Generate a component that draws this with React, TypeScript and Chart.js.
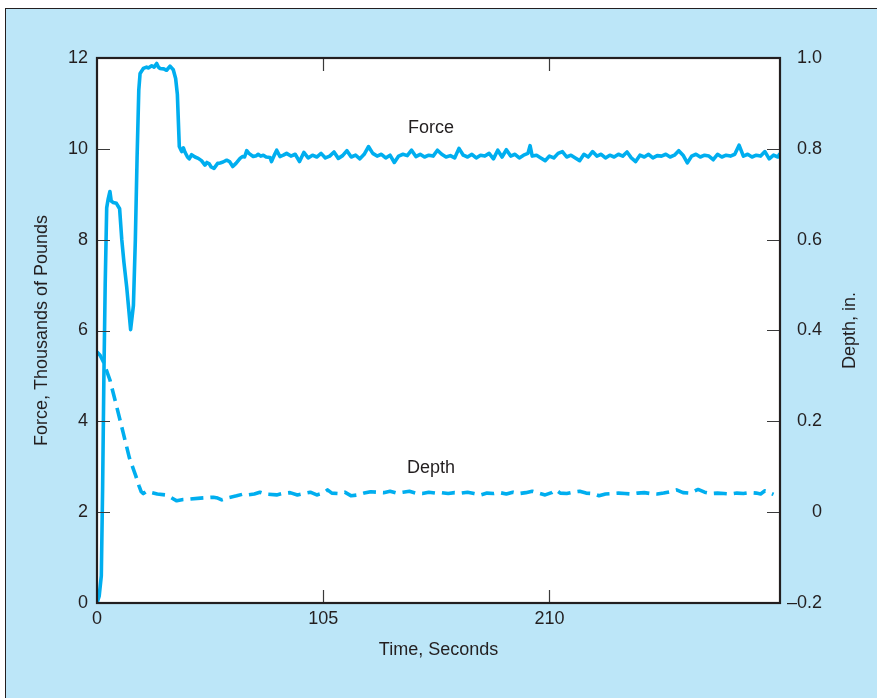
import React, { useEffect, useRef } from "react";
import { Chart, registerables } from "chart.js";

Chart.register(...registerables);

// ---------- data ----------
const forceTime = [
  0, 1.0, 2.0, 2.6, 3.2, 3.8, 4.5, 5.2, 6.0, 6.6, 7.5, 9.0, 10.5, 11.5, 12.5, 13.8, 15.6, 16.9,
  17.8, 18.6, 19.4, 20.0, 21.5, 23.0, 23.8, 25.4, 26.5, 27.7, 28.5, 29.2, 31.0, 32.3, 33.9, 35.4,
  36.5, 37.3, 38.2, 39.3, 40.1, 40.8, 42.0, 42.8, 43.9, 45.5, 47.0, 48.5, 50.1, 51.0, 52.1, 53.0,
  54.3, 56.0, 57.1, 58.5, 60.2, 61.5, 63.0, 64.5, 66.4, 67.5, 68.5, 69.5, 70.5, 72.5, 74.0, 74.8,
  76.0, 77.2, 78.5, 80.3, 81.0, 82.2, 83.4, 84.9, 86.5, 88.0,
  90, 92, 94, 96, 98, 100, 102, 104, 106, 108, 110, 112, 114, 116, 118, 120, 122, 124, 126, 128,
  130, 132, 134, 136, 138, 140, 142, 144, 146, 148, 150, 152, 154, 156, 158, 160, 162, 164, 166,
  168, 170, 172, 174, 176, 178, 180, 182, 184, 186, 188, 190, 192, 194, 196, 198, 200, 201, 202,
  204, 206, 208, 210, 212, 214, 216, 218, 220, 222, 224, 226, 228, 230, 232, 234, 236, 238, 240,
  242, 244, 246, 248, 250, 252, 254, 256, 258, 260, 262, 264, 266, 268, 270, 272, 274, 276, 278,
  280, 282, 284, 286, 288, 290, 292, 294, 296, 298, 300, 302, 304, 306, 308, 310, 312, 314, 316, 317,
];
const forceValues = [
  0.0, 0.15, 0.6, 2.5, 5.0, 7.0, 8.7, 8.9, 9.06, 8.85, 8.82, 8.8, 8.68, 8.0, 7.5, 6.95, 6.02, 6.55,
  8.0, 9.8, 11.3, 11.66, 11.77, 11.8, 11.78, 11.83, 11.8, 11.88, 11.8, 11.77, 11.76, 11.73, 11.82, 11.74,
  11.55, 11.2, 10.05, 9.94, 10.02, 9.93, 9.82, 9.78, 9.87, 9.82, 9.79, 9.74, 9.64, 9.7, 9.67, 9.6,
  9.57, 9.68, 9.69, 9.71, 9.75, 9.72, 9.61, 9.68, 9.79, 9.83, 9.82, 9.96, 9.9, 9.83, 9.85, 9.88,
  9.84, 9.86, 9.82, 9.81, 9.72, 9.85, 9.97, 9.83, 9.86, 9.9,
  9.84, 9.88, 9.72, 9.92, 9.8, 9.86, 9.82, 9.9, 9.8, 9.84, 9.93, 9.79, 9.85, 9.96, 9.82, 9.86, 9.78, 9.88, 10.05, 9.9,
  9.84, 9.88, 9.8, 9.86, 9.7, 9.84, 9.88, 9.85, 9.97, 9.83, 9.88, 9.82, 9.86, 9.84, 9.97, 9.88, 9.82, 9.85, 9.8,
  10.01, 9.86, 9.82, 9.88, 9.8, 9.86, 9.84, 9.9, 9.78, 9.97, 9.82, 9.98, 9.84, 9.88, 9.8, 9.86, 9.9, 10.07, 9.84,
  9.86, 9.8, 9.74, 9.84, 9.8, 9.9, 9.94, 9.82, 9.86, 9.8, 9.74, 9.88, 9.82, 9.94, 9.84, 9.88, 9.8, 9.86, 9.82,
  9.88, 9.84, 9.93, 9.8, 9.72, 9.86, 9.82, 9.88, 9.8, 9.85, 9.84, 9.88, 9.82, 9.86, 9.96, 9.86, 9.69, 9.84, 9.88,
  9.82, 9.86, 9.84, 9.76, 9.88, 9.82, 9.86, 9.84, 9.88, 10.08, 9.84, 9.88, 9.82, 9.86, 9.84, 9.94, 9.78, 9.86, 9.82, 9.9,
];

const depthTime = [
  0, 1.5, 3, 6, 9, 12.2, 15, 18, 19.5, 20.5, 21.5, 23, 25.4, 28, 31.6, 34, 37, 40, 43.2, 48, 54, 56,
  57.9, 61, 64.8, 68, 70, 73, 75.6, 78, 83.4, 86, 89.6, 93, 96, 99, 102, 105, 107, 109, 112, 115,
  118, 121, 124, 127, 130, 133, 136, 139, 142, 145, 148, 151, 154, 157, 160, 163, 166, 169, 172,
  175, 178, 181, 184, 187, 190, 193, 196, 199, 202, 205, 208, 211, 213, 215, 218, 221, 224, 227,
  230, 233, 236, 239, 242, 245, 248, 251, 254, 257, 260, 263, 266, 269, 272, 275, 279, 282, 285,
  288, 291, 294, 297, 300, 303, 306, 308, 310, 312, 314,
];
const depthValues = [
  0.353, 0.345, 0.331, 0.291, 0.235, 0.174, 0.12, 0.08, 0.058, 0.045, 0.041, 0.046, 0.043, 0.04, 0.038, 0.033, 0.025, 0.028, 0.029, 0.031, 0.033, 0.031,
  0.027, 0.032, 0.036, 0.04, 0.038, 0.04, 0.044, 0.04, 0.038, 0.041, 0.043, 0.038, 0.041, 0.044, 0.038, 0.042, 0.049, 0.042, 0.041, 0.044,
  0.036, 0.038, 0.042, 0.045, 0.044, 0.043, 0.046, 0.042, 0.044, 0.046, 0.042, 0.041, 0.044, 0.042, 0.043, 0.041, 0.043, 0.042, 0.044,
  0.041, 0.038, 0.042, 0.041, 0.043, 0.04, 0.044, 0.041, 0.043, 0.046, 0.042, 0.038, 0.043, 0.049, 0.042, 0.041, 0.044, 0.046, 0.042,
  0.041, 0.036, 0.04, 0.041, 0.042, 0.041, 0.04, 0.042, 0.043, 0.041, 0.04, 0.042, 0.045, 0.049, 0.043, 0.042, 0.05, 0.044, 0.041,
  0.042, 0.041, 0.04, 0.042, 0.041, 0.043, 0.042, 0.04, 0.047, 0.043, 0.039,
];

const xTicks = [0, 105, 210];
const leftTicks = [0, 2, 4, 6, 8, 10, 12];
const rightTicks = [-0.2, 0, 0.2, 0.4, 0.6, 0.8, 1.0];
const rightTickLabels = ["\u20130.2", "0", "0.2", "0.4", "0.6", "0.8", "1.0"];

const seriesNames = ["Force", "Depth"];
const seriesNameTime = [155, 155];
const seriesNameValue = [10.46, 0.097];

const xTitle = "Time, Seconds";
const leftTitle = "Force, Thousands of Pounds";
const rightTitle = "Depth, in.";

// ---------- styles ----------
const FONT = '"Liberation Sans", Arial, Helvetica, sans-serif';
const INK = "#231f20";
const LINE = "#00aeef";
const PANEL = "#bce6f8";
const TICK_LEN = 13;

const framePlugin = {
  id: "frame",
  beforeDraw(chart: any) {
    const { ctx, chartArea: a } = chart;
    ctx.save();
    ctx.fillStyle = "#ffffff";
    ctx.fillRect(a.left, a.top, a.right - a.left, a.bottom - a.top);
    ctx.restore();
  },
  afterDraw(chart: any) {
    const { ctx, chartArea: a, scales } = chart;
    ctx.save();
    ctx.strokeStyle = "#3a3a3a";
    ctx.lineWidth = 1.2;
    ctx.beginPath();
    scales.x.ticks.forEach((t: any) => {
      const px = Math.round(scales.x.getPixelForValue(t.value)) + 0.5;
      if (px <= a.left + 2 || px >= a.right - 2) return;
      ctx.moveTo(px, a.top);
      ctx.lineTo(px, a.top + TICK_LEN);
      ctx.moveTo(px, a.bottom);
      ctx.lineTo(px, a.bottom - TICK_LEN);
    });
    scales.y.ticks.forEach((t: any) => {
      const py = Math.round(scales.y.getPixelForValue(t.value)) + 0.5;
      if (py <= a.top + 2 || py >= a.bottom - 2) return;
      ctx.moveTo(a.left, py);
      ctx.lineTo(a.left + TICK_LEN, py);
    });
    scales.y1.ticks.forEach((t: any) => {
      const py = Math.round(scales.y1.getPixelForValue(t.value)) + 0.5;
      if (py <= a.top + 2 || py >= a.bottom - 2) return;
      ctx.moveTo(a.right, py);
      ctx.lineTo(a.right - TICK_LEN, py);
    });
    ctx.stroke();

    ctx.strokeStyle = INK;
    ctx.lineWidth = 2.2;
    ctx.strokeRect(a.left, a.top, a.right - a.left, a.bottom - a.top);

    ctx.fillStyle = INK;
    ctx.font = `18px ${FONT}`;
    ctx.textAlign = "center";
    ctx.textBaseline = "middle";
    ctx.fillText(
      seriesNames[0],
      scales.x.getPixelForValue(seriesNameTime[0]),
      scales.y.getPixelForValue(seriesNameValue[0])
    );
    ctx.fillText(
      seriesNames[1],
      scales.x.getPixelForValue(seriesNameTime[1]),
      scales.y1.getPixelForValue(seriesNameValue[1])
    );

    ctx.translate(chart.width - 27, (a.top + a.bottom) / 2);
    ctx.rotate(-Math.PI / 2);
    ctx.fillText(rightTitle, 0, 0);
    ctx.restore();
  },
};

export default function App() {
  const canvasRef = useRef<HTMLCanvasElement | null>(null);

  useEffect(() => {
    if (!canvasRef.current) return;
    const tickFont = { family: FONT, size: 18 };
    const chart = new Chart(canvasRef.current, {
      type: "line",
      data: {
        datasets: [
          {
            label: seriesNames[0],
            data: forceTime.map((t, i) => ({ x: t, y: forceValues[i] })),
            yAxisID: "y",
            borderColor: LINE,
            borderWidth: 3.6,
            pointRadius: 0,
            tension: 0,
            fill: false,
            borderJoinStyle: "round",
          },
          {
            label: seriesNames[1],
            data: depthTime.map((t, i) => ({ x: t, y: depthValues[i] })),
            yAxisID: "y1",
            borderColor: LINE,
            borderWidth: 3.6,
            borderDash: [13, 7],
            pointRadius: 0,
            tension: 0,
            fill: false,
            borderJoinStyle: "round",
          },
        ],
      },
      options: {
        responsive: false,
        animation: false,
        events: [],
        layout: { padding: { top: 58, left: 0, right: 55, bottom: 0 } },
        plugins: { legend: { display: false }, tooltip: { enabled: false } },
        scales: {
          x: {
            type: "linear",
            position: "bottom",
            min: 0,
            max: 317,
            afterBuildTicks: (s: any) => {
              s.ticks = xTicks.map((v) => ({ value: v }));
            },
            afterFit: (s: any) => {
              s.height = 95;
            },
            grid: { display: false, drawTicks: false },
            border: { display: false },
            ticks: { autoSkip: false, maxRotation: 0, padding: 5, color: INK, font: tickFont },
            title: {
              display: true,
              text: xTitle,
              color: INK,
              font: tickFont,
              padding: { top: 0, bottom: 37 },
            },
          },
          y: {
            type: "linear",
            position: "left",
            min: 0,
            max: 12,
            afterBuildTicks: (s: any) => {
              s.ticks = leftTicks.map((v) => ({ value: v }));
            },
            afterFit: (s: any) => {
              s.width = 97;
            },
            grid: { display: false, drawTicks: false },
            border: { display: false },
            ticks: { autoSkip: false, padding: 9, color: INK, font: tickFont },
            title: {
              display: true,
              text: leftTitle,
              color: INK,
              font: tickFont,
              padding: { top: 31, bottom: 0 },
            },
          },
          y1: {
            type: "linear",
            position: "right",
            min: -0.2,
            max: 1.0,
            afterBuildTicks: (s: any) => {
              s.ticks = rightTicks.map((v) => ({ value: v }));
            },
            afterFit: (s: any) => {
              s.width = 42;
            },
            grid: { display: false, drawTicks: false },
            border: { display: false },
            ticks: {
              autoSkip: false,
              padding: 0,
              crossAlign: "far",
              color: INK,
              font: tickFont,
              callback: (_v: any, i: number) => rightTickLabels[i],
            },
          },
        },
      },
      plugins: [framePlugin],
    } as any);
    return () => chart.destroy();
  }, []);

  return (
    <div
      style={{
        position: "absolute",
        left: 0,
        top: 0,
        width: 877,
        height: 698,
        background: "#ffffff",
        overflow: "hidden",
      }}
    >
      <div
        style={{
          position: "absolute",
          left: 5,
          top: 8,
          width: 900,
          height: 720,
          boxSizing: "border-box",
          border: `1px solid ${INK}`,
          background: PANEL,
        }}
      />
      <canvas
        ref={canvasRef}
        width={877}
        height={698}
        style={{ position: "absolute", left: 0, top: 0, width: 877, height: 698 }}
      />
    </div>
  );
}
